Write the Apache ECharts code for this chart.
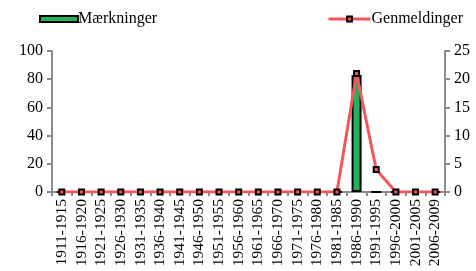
<!DOCTYPE html>
<html>
<head>
<meta charset="utf-8">
<script src="https://cdn.jsdelivr.net/npm/echarts@6/dist/echarts.min.js"></script>
<style>
  html, body { margin: 0; padding: 0; background: #fff; }
  #chart { width: 476px; height: 271px; }
</style>
</head>
<body>
<div id="chart"></div>
<script>
const periods = ['1911-1915', '1916-1920', '1921-1925', '1926-1930', '1931-1935', '1936-1940', '1941-1945',
  '1946-1950', '1951-1955', '1956-1960', '1961-1965', '1966-1970', '1971-1975', '1976-1980', '1981-1985',
  '1986-1990', '1991-1995', '1996-2000', '2001-2005', '2006-2009'];
const maerkninger = [0, 0, 0, 0, 0, 0, 0, 0, 0, 0, 0, 0, 0, 0, 0, 83, 0, 0, 0, 0];
const genmeldinger = [0, 0, 0, 0, 0, 0, 0, 0, 0, 0, 0, 0, 0, 0, 0, 21, 4, 0, 0, 0];

const chart = echarts.init(document.getElementById('chart'));
const font = 'Liberation Serif';
const axisGray = '#8c8c8c';

chart.setOption({
  animation: false,
  textStyle: { fontFamily: font, color: '#000' },
  legend: [
    {
      left: 34, top: 6, itemWidth: 38, itemHeight: 6, itemGap: 0,
      textStyle: { fontFamily: font, fontSize: 16, color: '#000', padding: [0, 0, 0, -5] },
      data: [{ name: 'Mærkninger', icon: 'rect', itemStyle: { borderColor: '#000', borderWidth: 2 } }],
    },
    {
      left: 322, top: 6, itemWidth: 42, itemHeight: 6, itemGap: 0,
      textStyle: { fontFamily: font, fontSize: 16, color: '#000', padding: [0, 0, 0, -4] },
      data: [{ name: 'Genmeldinger', lineStyle: { width: 3 } }],
    },
  ],
  grid: { left: 52, right: 31, top: 51, bottom: 79 },
  xAxis: {
    type: 'category',
    data: periods,
    axisLine: { lineStyle: { color: axisGray, width: 2 } },
    axisTick: { show: true, length: 4, lineStyle: { color: axisGray, width: 2 } },
    axisLabel: { rotate: 90, interval: 0, fontFamily: font, fontSize: 15.5, color: '#000', margin: 7 },
  },
  yAxis: [
    {
      type: 'value', min: 0, max: 100, interval: 20,
      axisLine: { show: true, lineStyle: { color: axisGray, width: 2 } },
      axisTick: { show: true, length: 5, lineStyle: { color: axisGray, width: 2 } },
      axisLabel: { fontFamily: font, fontSize: 16, color: '#000', margin: 9 },
      splitLine: { show: false },
    },
    {
      type: 'value', min: 0, max: 25, interval: 5, position: 'right',
      axisLine: { show: true, lineStyle: { color: axisGray, width: 2 } },
      axisTick: { show: true, length: 5, lineStyle: { color: axisGray, width: 2 } },
      axisLabel: { fontFamily: font, fontSize: 16, color: '#000', margin: 9 },
      splitLine: { show: false },
    },
  ],
  series: [
    {
      name: 'Mærkninger',
      type: 'bar',
      yAxisIndex: 0,
      data: maerkninger,
      barWidth: 10,
      itemStyle: { color: '#23b25a', borderColor: '#000', borderWidth: 2 },
    },
    {
      name: 'Genmeldinger',
      type: 'line',
      yAxisIndex: 1,
      data: genmeldinger,
      symbol: 'rect',
      symbolSize: 5,
      lineStyle: { color: '#f2575a', width: 3 },
      itemStyle: { color: '#f2575a', borderColor: '#000', borderWidth: 2 },
      z: 3,
    },
  ],
});
</script>
</body>
</html>
